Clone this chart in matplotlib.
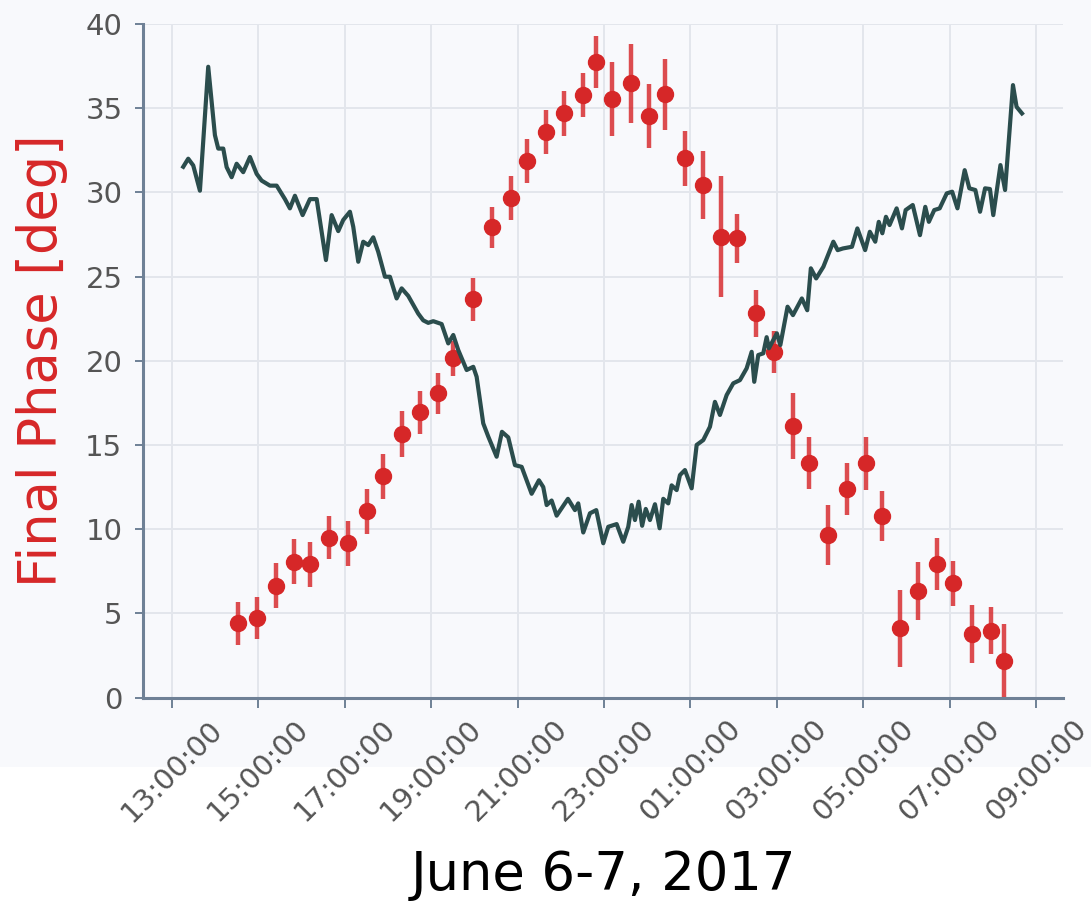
import matplotlib
matplotlib.use("Agg")
import matplotlib.pyplot as plt
import matplotlib.dates as mdates
from matplotlib.patches import Rectangle
from datetime import datetime, timedelta

# Hours counted from 2017-06-06 00:00
phase_hours = [14.535, 14.96, 15.41, 15.82, 16.19, 16.63, 17.08, 17.51, 17.88, 18.32,
               18.74, 19.16, 19.51, 19.97, 20.41, 20.84, 21.22, 21.66, 22.07, 22.51,
               22.82, 23.19, 23.62, 24.04, 24.42, 24.87, 25.29, 25.70, 26.09, 26.52,
               26.94, 27.38, 27.75, 28.19, 28.62, 29.06, 29.43, 29.85, 30.28, 30.72,
               31.09, 31.51, 31.95, 32.26]
phase_deg = [4.41, 4.74, 6.64, 8.07, 7.91, 9.49, 9.16, 11.07, 13.15, 15.65,
             16.93, 18.06, 20.14, 23.65, 27.92, 29.64, 31.86, 33.60, 34.69, 35.78,
             37.72, 35.52, 36.47, 34.53, 35.82, 32.02, 30.43, 27.36, 27.27, 22.81,
             20.54, 16.12, 13.91, 9.65, 12.36, 13.91, 10.78, 4.11, 6.34, 7.93,
             6.78, 3.77, 3.97, 2.19]
phase_err = [1.29, 1.24, 1.33, 1.34, 1.34, 1.27, 1.32, 1.33, 1.34, 1.34,
             1.26, 1.24, 1.04, 1.26, 1.23, 1.31, 1.31, 1.31, 1.34, 1.31,
             1.55, 2.20, 2.35, 1.88, 2.10, 1.63, 2.03, 3.59, 1.46, 1.39,
             1.25, 1.95, 1.55, 1.80, 1.54, 1.56, 1.48, 2.30, 1.73, 1.56,
             1.34, 1.73, 1.40, 2.15]

trace_hours = [13.262, 13.377, 13.493, 13.648, 13.840, 13.995, 14.072, 14.188, 14.266, 14.382,
               14.498, 14.650, 14.806, 14.961, 15.076, 15.269, 15.424, 15.616, 15.731, 15.847,
               16.025, 16.194, 16.350, 16.565, 16.697, 16.850, 16.965, 17.120, 17.197, 17.313,
               17.428, 17.544, 17.660, 17.775, 17.931, 18.046, 18.201, 18.317, 18.470, 18.701,
               18.817, 18.933, 19.049, 19.243, 19.396, 19.512, 19.627, 19.822, 19.975, 20.053,
               20.206, 20.322, 20.516, 20.639, 20.785, 20.940, 21.095, 21.326, 21.495, 21.595,
               21.674, 21.789, 21.905, 22.167, 22.329, 22.405, 22.521, 22.676, 22.822, 22.984,
               23.100, 23.294, 23.447, 23.563, 23.641, 23.718, 23.803, 23.884, 23.968, 24.065,
               24.181, 24.289, 24.373, 24.488, 24.567, 24.683, 24.759, 24.875, 25.030, 25.146,
               25.299, 25.454, 25.569, 25.685, 25.840, 25.993, 26.148, 26.303, 26.419, 26.479,
               26.572, 26.688, 26.766, 26.819, 27.002, 27.083, 27.250, 27.375, 27.581, 27.706,
               27.789, 27.912, 28.079, 28.310, 28.410, 28.532, 28.741, 28.866, 29.046, 29.155,
               29.280, 29.361, 29.444, 29.528, 29.611, 29.775, 29.898, 29.984, 30.148, 30.315,
               30.438, 30.521, 30.646, 30.771, 30.935, 31.060, 31.183, 31.350, 31.458, 31.597,
               31.706, 31.822, 31.935, 32.012, 32.178, 32.285, 32.468, 32.551, 32.676]
trace_vals = [31.52, 32.00, 31.60, 30.10, 37.46, 33.40, 32.60, 32.60, 31.50, 30.90,
              31.70, 31.20, 32.10, 31.10, 30.70, 30.40, 30.40, 29.60, 29.05, 29.80,
              28.65, 29.60, 29.60, 25.98, 28.65, 27.70, 28.36, 28.85, 27.96, 25.88,
              27.07, 26.87, 27.33, 26.47, 24.99, 24.99, 23.70, 24.30, 23.85, 22.80,
              22.40, 22.25, 22.35, 22.18, 21.03, 21.53, 20.64, 19.45, 19.64, 19.05,
              16.28, 15.50, 14.30, 15.78, 15.45, 13.80, 13.70, 12.10, 12.90, 12.50,
              11.43, 11.70, 10.80, 11.80, 11.13, 11.53, 9.80, 10.94, 11.13, 9.16,
              10.14, 10.30, 9.25, 10.14, 11.43, 10.54, 11.63, 10.20, 11.20, 10.54,
              11.48, 10.05, 11.80, 11.53, 12.60, 12.32, 13.21, 13.51, 12.42, 15.00,
              15.29, 16.08, 17.56, 16.78, 17.96, 18.66, 18.85, 19.55, 20.53, 18.75,
              20.34, 20.44, 21.40, 20.74, 21.63, 20.93, 23.21, 22.71, 23.70, 23.00,
              25.49, 24.89, 25.58, 27.07, 26.57, 26.67, 26.77, 27.86, 26.57, 27.66,
              27.07, 28.25, 27.57, 28.55, 28.06, 29.05, 27.86, 28.95, 29.25, 27.46,
              29.14, 28.25, 28.95, 29.05, 29.94, 30.04, 29.05, 31.32, 30.24, 30.14,
              28.85, 30.24, 30.20, 28.65, 31.62, 30.14, 36.37, 35.08, 34.69]

y_ticks = [0, 5, 10, 15, 20, 25, 30, 35, 40]

START = datetime(2017, 6, 6)


def to_dt(hours):
    return [START + timedelta(hours=h) for h in hours]


BG = "#f8f9fc"
SPINE = "#6f8196"
RED = "#d62728"

fig = plt.figure(figsize=(10.91, 9.02), dpi=100, facecolor=BG)
fig.add_artist(Rectangle((0, 0), 1, 135 / 902, transform=fig.transFigure,
                         facecolor="white", edgecolor="none", zorder=-5))

ax = fig.add_axes([0.1313, 0.2267, 0.843, 0.7467])
ax.set_facecolor(BG)

ax.errorbar(to_dt(phase_hours), phase_deg, yerr=phase_err, fmt="o", color=RED,
            ms=11.5, elinewidth=3.2, ecolor=(0.84, 0.15, 0.16, 0.82), capsize=0,
            zorder=3)
ax.plot(to_dt(trace_hours), trace_vals, color="#2b4d4d", lw=3.0, zorder=4,
        solid_joinstyle="round")

ax.set_xlim(START + timedelta(hours=12.336), START + timedelta(hours=33.625))
ax.set_ylim(0, 40)
ax.set_yticks(y_ticks)

ax.xaxis.set_major_locator(mdates.HourLocator(byhour=range(1, 24, 2)))
ax.xaxis.set_major_formatter(mdates.DateFormatter("%H:%M:%S"))

ax.grid(True, color="#e3e6ec", linewidth=1.4)
ax.set_axisbelow(True)

for side in ("top", "right"):
    ax.spines[side].set_visible(False)
for side in ("left", "bottom"):
    ax.spines[side].set_color(SPINE)
    ax.spines[side].set_linewidth(2.2)

ax.tick_params(axis="x", colors=SPINE, labelcolor="#555555", labelsize=21,
               length=7.5, width=1.4, pad=5, labelrotation=45)
ax.tick_params(axis="y", colors=SPINE, labelcolor="#555555", labelsize=21,
               length=6, width=1.4, pad=9)

ax.set_ylabel("Final Phase [deg]", color=RED, fontsize=38)
ax.yaxis.set_label_coords(-0.082, 0.5)
ax.set_xlabel("June 6-7, 2017", color="black", fontsize=38)
ax.xaxis.set_label_coords(0.5, -0.225)

fig.savefig("out.png", dpi=100, facecolor=fig.get_facecolor())
